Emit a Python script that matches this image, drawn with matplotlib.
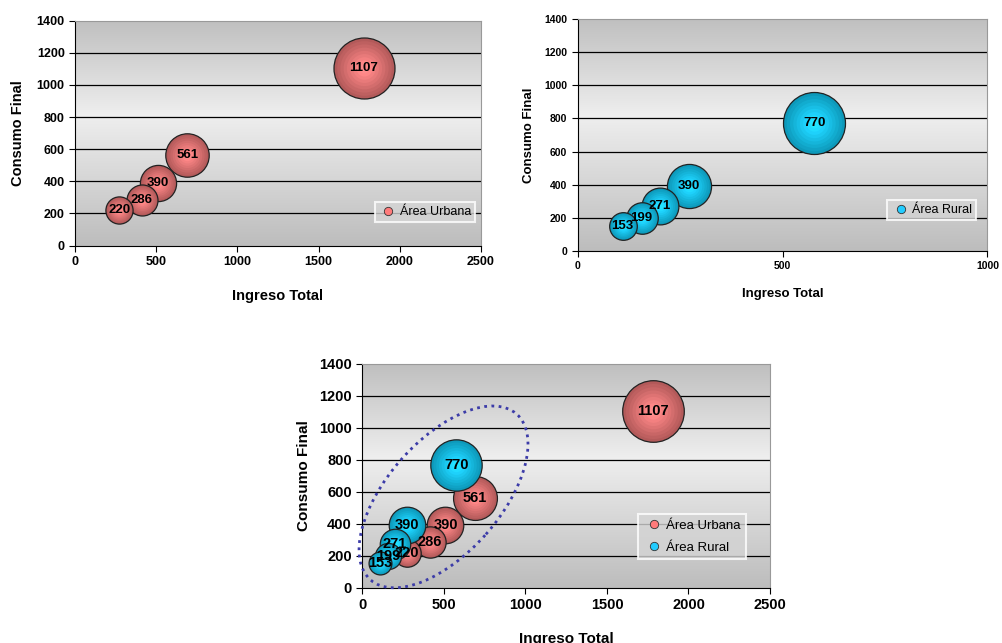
import numpy as np
import matplotlib
matplotlib.use('Agg')
import matplotlib.pyplot as plt
import matplotlib.colors as mcolors
from matplotlib.patches import Ellipse
from matplotlib.transforms import IdentityTransform

plt.rcParams['font.family'] = ['Liberation Sans', 'DejaVu Sans']

# data
urb_x = [273, 412, 510, 691, 1780]
urb_y = [220, 286, 390, 561, 1107]
rur_x = [110, 156, 201, 271, 577]
rur_y = [153, 199, 271, 390, 770]

urb_col = '#e07070'
rur_col = '#10bfe8'
urb_legend = 'Área Urbana'
rur_legend = 'Área Rural'
xlab = 'Ingreso Total'
ylab = 'Consumo Final'
yticks = [0, 200, 400, 600, 800, 1000, 1200, 1400]

fig = plt.figure(figsize=(10.02, 6.43), dpi=100)


def background(ax):
    t = np.linspace(0, 1, 256)
    g = np.interp(t, [0, 0.58, 1], [0.74, 0.935, 0.75])
    img = np.repeat(np.stack([g, g, g], axis=-1)[:, None, :], 2, axis=1)
    ax.imshow(img, extent=[0, 1, 0, 1], transform=ax.transAxes,
              aspect='auto', origin='lower', zorder=0)


def bubbles(ax, xs, ys, color, rmax, vmax, z0):
    base = np.array(mcolors.to_rgb(color))
    order = np.argsort(ys)[::-1]
    for k, i in enumerate(order):
        r = rmax * np.sqrt(ys[i] / vmax) * 72 / 100.0
        z = z0 + k * 0.1
        ax.scatter([xs[i]], [ys[i]], s=(2 * r) ** 2, color=base * 0.8,
                   edgecolors='#222222', linewidths=0.9, zorder=z)
        for j in range(1, 9):
            f = 1 - j / 9.5
            c = np.clip(base * (0.8 + 0.3 * j / 8) + 0.07 * j / 8, 0, 1)
            ax.scatter([xs[i]], [ys[i]], s=(2 * r * f) ** 2, color=c,
                       linewidths=0, zorder=z + 0.01 * j)


def labels(ax, xs, ys, fs):
    for x, y in zip(xs, ys):
        ax.text(x, y, str(y), ha='center', va='center', fontsize=fs,
                fontweight='bold', color='black', zorder=20)


def style(ax, xmax, xstep, tfs, lfs, xpad, ypad):
    background(ax)
    ax.set_xlim(0, xmax)
    ax.set_ylim(0, 1400)
    ax.set_xticks(np.arange(0, xmax + 1, xstep))
    ax.set_yticks(yticks)
    for y in yticks[1:-1]:
        ax.axhline(y, color='black', lw=0.9, zorder=1)
    for s in ['top', 'right']:
        ax.spines[s].set_color('#999999')
    for s in ['left', 'bottom']:
        ax.spines[s].set_color('black')
    ax.tick_params(direction='out', length=4, width=0.8, labelsize=tfs)
    for lb in ax.get_xticklabels() + ax.get_yticklabels():
        lb.set_fontweight('bold')
    ax.set_xlabel(xlab, fontsize=lfs, fontweight='bold', labelpad=xpad)
    ax.set_ylabel(ylab, fontsize=lfs, fontweight='bold', labelpad=ypad)


def legend(ax, items, anchor, fs, bp, ls=0.5):
    hs = [plt.Line2D([], [], ls='', marker='o', ms=6, mfc=c,
                     mec='#333333', mew=0.6) for c, _ in items]
    lg = ax.legend(hs, [t for _, t in items], loc='lower right',
                   bbox_to_anchor=anchor, fontsize=fs, frameon=True,
                   fancybox=False, handletextpad=0.1, borderpad=bp,
                   labelspacing=ls, handlelength=1.6, borderaxespad=0)
    lg.get_frame().set_facecolor('#d4d4d4')
    lg.get_frame().set_edgecolor('white')
    lg.get_frame().set_linewidth(1.5)
    lg.set_zorder(30)


# top left: urban
ax1 = fig.add_axes([0.0749, 0.618, 0.405, 0.35])
style(ax1, 2500, 500, 9, 10.5, 15, 8)
bubbles(ax1, urb_x, urb_y, urb_col, 30.5, max(urb_y), 5)
labels(ax1, urb_x, urb_y, 9.5)
legend(ax1, [('#ff7b7b', urb_legend)], (0.985, 0.105), 9, 0.3)

# top right: rural
ax2 = fig.add_axes([0.5765, 0.6096, 0.409, 0.361])
style(ax2, 1000, 500, 7.5, 9.5, 12, 7)
bubbles(ax2, rur_x, rur_y, rur_col, 31, max(rur_y), 5)
labels(ax2, rur_x, rur_y, 9.5)
legend(ax2, [('#22ccff', rur_legend)], (0.971, 0.134), 9, 0.3)

# bottom: both
ax3 = fig.add_axes([0.3616, 0.086, 0.4069, 0.348])
style(ax3, 2500, 500, 10.5, 11, 14, 6)
vmax = max(max(urb_y), max(rur_y))
bubbles(ax3, urb_x, urb_y, urb_col, 30.8, vmax, 5)
bubbles(ax3, rur_x, rur_y, rur_col, 30.8, vmax, 7)
labels(ax3, urb_x, urb_y, 10.5)
labels(ax3, rur_x, rur_y, 10.5)
legend(ax3, [('#ff7b7b', urb_legend), ('#22ccff', rur_legend)],
       (0.94, 0.128), 9.5, 0.4, 0.75)

# dotted ellipse round the low values, drawn in pixel space
cx, cy = ax3.transData.transform((498, 568))
ax3.add_patch(Ellipse((cx, cy), 221, 113, angle=48.6, fill=False,
                      ls=(0, (1, 1.6)), lw=2, color='#3c3ca8',
                      transform=IdentityTransform(), zorder=25,
                      clip_on=False))

fig.savefig('out.png', dpi=100)
